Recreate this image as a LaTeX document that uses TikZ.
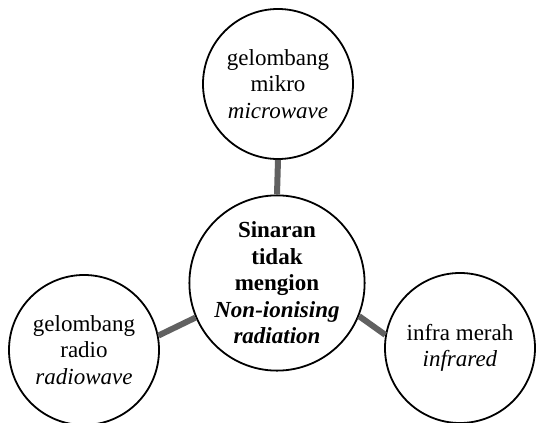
\documentclass[tikz,border=0pt]{standalone}
\usepackage{fontspec}
\setmainfont{Liberation Serif}
\usepackage{tikz}

\begin{document}
\begin{tikzpicture}[x=1pt,y=-1pt,
  bubble/.style={circle,draw,line width=1.8pt,fill=white,inner sep=0pt,
    minimum size=150pt,align=center,font=\fontsize{23}{26.5}\selectfont},
  link/.style={line width=6pt,black!62}]
  \useasboundingbox (0,0) rectangle (536,423);
  \node[bubble,minimum size=160pt,font=\fontsize{23}{26.5}\selectfont\bfseries] (sinar) at (277,283)
    {Sinaran\\tidak\\mengion\\\textit{Non-ionising}\\\textit{radiation}};
  \node[bubble] (mikro) at (278,84) {gelombang\\mikro\\\textit{microwave}};
  \node[bubble] (radio) at (84,350) {gelombang\\radio\\\textit{radiowave}};
  \node[bubble] (infra) at (460,348) {infra merah\\\textit{infrared}};
  % connectors
  \draw[link] (sinar.north) -- (mikro.south);
  \draw[link] (sinar.203) -- (radio.11);
  \draw[link] (sinar.-22) -- (infra.170);
\end{tikzpicture}
\end{document}
